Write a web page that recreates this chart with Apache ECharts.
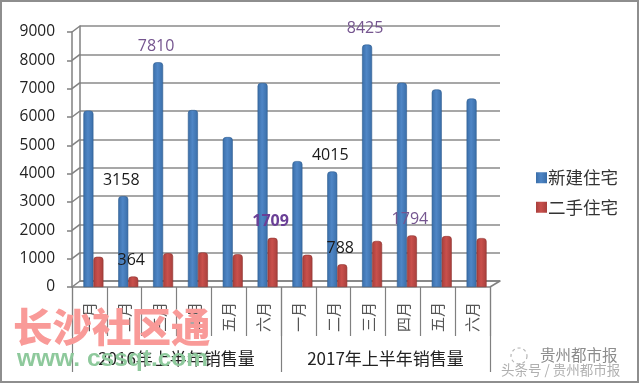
<!DOCTYPE html>
<html><head><meta charset="utf-8">
<style>html,body{margin:0;padding:0;background:#fff}#c{width:640px;height:385px}</style>
<script src="https://cdn.jsdelivr.net/npm/echarts@6/dist/echarts.min.js"></script></head>
<body><div id="c"></div><script>
const months=['一月','二月','三月','四月','五月','六月','一月','二月','三月','四月','五月','六月'];
const groups=['2016年上半年销售量','2017年上半年销售量'];
const newHomes=[6130,3158,7810,6150,5210,7090,4375,4015,8425,7100,6865,6550];
const resale=[1050,364,1175,1200,1140,1709,1120,788,1600,1794,1770,1700];
const yTicks=[0,1000,2000,3000,4000,5000,6000,7000,8000,9000];
const labelledNew={1:'#1a1a1a',2:'#75558f',7:'#1a1a1a',8:'#75558f'};
const labelledResale={1:'#1a1a1a',5:'#6a3f96',7:'#1a1a1a',9:'#75558f'};
const boldResale=[5];
const CJK='"Noto Sans CJK SC"',NUM='"Open Sans"';
const chart=echarts.init(document.getElementById('c'));
function grad(e,m){return new echarts.graphic.LinearGradient(0,0,1,0,[{offset:0,color:e},{offset:.45,color:m},{offset:1,color:e}]);}
function items(vals,map,bold){return vals.map((v,i)=>map[i]?{value:v,label:{show:true,position:'top',offset:[-2,-3],formatter:String(v),color:map[i],fontFamily:NUM,fontSize:16,fontWeight:(bold&&bold.includes(i))?'bold':'normal'}}:v);}
const axisGray='#808080';
chart.setOption({
 animation:false,backgroundColor:'#fff',
 grid:[
  {left:80,right:140,top:26,height:255,outerBoundsMode:'none'},
  {left:72,right:150,top:32,height:255,outerBoundsMode:'none'},
  {left:76,right:146,top:28,height:259,outerBoundsMode:'none'}
 ],
 xAxis:[
  {gridIndex:0,type:'category',data:months,axisLine:{show:true,lineStyle:{color:axisGray,width:1.5}},axisTick:{show:false},axisLabel:{show:false}},
  {gridIndex:1,type:'category',data:months,position:'bottom',
   axisLine:{show:true,lineStyle:{color:axisGray,width:1.5}},
   axisTick:{show:true,length:49,lineStyle:{color:axisGray,width:1.2}},
   axisLabel:{rotate:90,interval:0,margin:15,fontFamily:CJK,fontSize:15,color:'#555'}},
  {gridIndex:1,type:'category',data:groups,position:'bottom',
   axisLine:{show:false},
   axisTick:{show:true,length:85,lineStyle:{color:axisGray,width:1.2}},
   axisLabel:{interval:0,margin:63,fontFamily:CJK,fontSize:17,color:'#222'}},
  {gridIndex:2,type:'category',data:months,show:false}
 ],
 yAxis:[
  {gridIndex:0,type:'value',min:0,max:9000,interval:1000,axisLine:{show:true,lineStyle:{color:axisGray,width:1.5}},axisTick:{show:false},axisLabel:{show:false},splitLine:{show:true,lineStyle:{color:'#8a8a8a',width:1.5}}},
  {gridIndex:1,type:'value',min:0,max:9000,interval:1000,axisLine:{show:true,lineStyle:{color:axisGray,width:1.5}},axisTick:{show:true,length:5,lineStyle:{color:axisGray,width:1.5}},axisLabel:{margin:17,padding:[5,0,0,0],fontFamily:NUM,fontSize:15.5,color:'#222',formatter:v=>String(v)},splitLine:{show:false}},
  {gridIndex:2,type:'value',min:0,max:9000,show:false,splitLine:{show:false}}
 ],
 legend:{left:531,top:164,orient:'vertical',itemWidth:11,itemHeight:11,itemGap:12,icon:'rect',
  itemStyle:{borderWidth:0},
  textStyle:{fontFamily:CJK,fontSize:17.5,color:'#333',padding:[0,0,0,-4]},data:['新建住宅','二手住宅']},
 series:[
  {type:'custom',xAxisIndex:1,yAxisIndex:1,z:1,silent:true,data:yTicks.map(v=>[v]),encode:{y:0},
   renderItem(p,api){const y=api.coord([0,api.value(0)])[1],x=p.coordSys.x;
    const kids=[{type:'line',shape:{x1:x,y1:y,x2:x+8,y2:y-6},style:{stroke:axisGray,lineWidth:1.5}}];
    if(api.value(0)===0)kids.push({type:'line',shape:{x1:x+p.coordSys.width,y1:y,x2:x+p.coordSys.width+10,y2:y-6},style:{stroke:axisGray,lineWidth:1.5}});
    return{type:'group',children:kids};}},
  {name:'新建住宅',type:'bar',xAxisIndex:3,yAxisIndex:2,z:3,barWidth:10,barGap:'0%',data:items(newHomes,labelledNew),
   itemStyle:{color:grad('#3a6ea8','#4f86c6'),borderColor:'#2d5c90',borderWidth:.6,borderRadius:[3,3,0,0]}},
  {name:'二手住宅',type:'bar',xAxisIndex:3,yAxisIndex:2,z:3,barWidth:10,barGap:'0%',data:items(resale,labelledResale,boldResale),
   itemStyle:{color:grad('#a83f3c','#c9504c'),borderColor:'#8f3431',borderWidth:.6,borderRadius:[3,3,0,0]}}
 ],
 graphic:[
  {type:'rect',silent:true,z:0,shape:{x:1,y:1,width:637,height:381},style:{fill:'none',stroke:'#8e8e8e',lineWidth:2}},
  {type:'text',silent:true,z:50,left:13,top:307,style:{text:'长沙社区通',fontFamily:CJK,fontWeight:900,fontSize:39.5,fill:'#f99a98'}},
  {type:'text',silent:true,z:50,left:17,top:347,style:{text:'www. cssqt.com',fontFamily:'"Liberation Sans"',fontWeight:'bold',fontSize:24.5,fill:'#8ec99c'}},
  {type:'circle',silent:true,z:50,shape:{cx:519,cy:356,r:8},style:{fill:'none',stroke:'#b5b5b5',lineWidth:1.2,lineDash:[3,3]}},
  {type:'text',silent:true,z:50,left:540,top:347,style:{text:'贵州都市报',fontFamily:CJK,fontSize:15.5,fill:'#8c8c8c'}},
  {type:'text',silent:true,z:50,left:501,top:363,style:{text:'头条号 / 贵州都市报',fontFamily:CJK,fontSize:13.5,fill:'#b0b0b0'}}
 ]
});
</script></body></html>
